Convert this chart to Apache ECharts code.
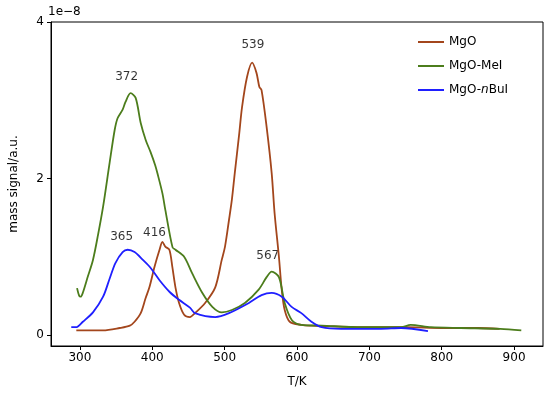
<!DOCTYPE html>
<html><head><meta charset="utf-8">
<script src="https://cdn.jsdelivr.net/npm/echarts@6/dist/echarts.min.js"></script>
<style>html,body{margin:0;padding:0;background:#fff}#c{width:550px;height:395px}</style>
</head><body><div id="c"></div>
<script>
// Data (signal in units of 1e-8)
const mgoT = [295,332,355,369,375.5,384,390.7,396,403,410,414,418,423.6,427.7,432,437,444,452,459,473,487,496,500.5,506,510,514,520,524,531,538,544,548,551,558,565,569,575,579,583,590,606,620,650,700,750,800,850,880];
const mgoV = [0.06,0.06,0.09,0.12,0.17,0.28,0.47,0.61,0.87,1.09,1.19,1.13,1.09,0.87,0.61,0.41,0.26,0.23,0.28,0.41,0.61,0.96,1.13,1.47,1.73,2.07,2.56,2.91,3.30,3.48,3.35,3.17,3.13,2.66,2.07,1.56,1.0,0.57,0.32,0.17,0.13,0.12,0.11,0.10,0.10,0.09,0.09,0.08];
const meiT = [296,299,301,304,311,318,325,332,341,348,352,359,363,370,377,384,391,397.5,404,407,414,418,428,432,444,455,469,483,496,510,528,547,558,565,575,583,593,606,634,689,744,757,785,826,881,910];
const meiV = [0.60,0.50,0.49,0.54,0.75,0.96,1.28,1.64,2.20,2.62,2.77,2.88,2.98,3.09,3.03,2.71,2.49,2.34,2.17,2.07,1.81,1.60,1.12,1.09,1.00,0.79,0.54,0.36,0.29,0.32,0.41,0.58,0.74,0.81,0.74,0.41,0.19,0.13,0.12,0.10,0.10,0.13,0.10,0.09,0.08,0.06];
const buiT = [288,294.5,304,318,332,341,349,359,366,375.5,387,397.5,410,424,437,452,459,487,506,533.5,551,565,579,592.6,606,620,634,661,716,744,781];
const buiV = [0.10,0.10,0.17,0.29,0.49,0.72,0.92,1.06,1.09,1.06,0.96,0.86,0.70,0.55,0.45,0.35,0.28,0.23,0.28,0.41,0.51,0.54,0.49,0.36,0.28,0.17,0.10,0.08,0.08,0.09,0.05];
const seriesNames = ['MgO','MgO-MeI','MgO-nBuI'];
const annotText = ['372','365','416','539','567'];
const annotT = [364.6,357.7,403,539,559.6];
const annotV = [3.30,1.25,1.30,3.71,1.01];
const xTicks = [300,400,500,600,700,800,900];
const yTicks = [0,2,4];

const zip = (a,b)=>a.map((t,i)=>[t,b[i]]);
const font = 'DejaVu Sans';
const colors = ['#a3461c','#4c7d1c','#1f1fff'];
const chart = echarts.init(document.getElementById('c'), null, {renderer:'canvas'});
chart.setOption({
  animation:false,
  textStyle:{fontFamily:font},
  grid:{left:48,right:7,top:22,bottom:49,show:true,borderColor:'#000',borderWidth:1,backgroundColor:'transparent'},
  xAxis:{type:'value',min:260,max:940,name:'T/K',nameLocation:'middle',nameGap:30,
    nameTextStyle:{color:'#000',fontSize:12,fontFamily:font},
    axisLine:{show:true,onZero:false,lineStyle:{color:'#000',width:1}},
    axisTick:{show:true,length:4,inside:false,customValues:xTicks,lineStyle:{color:'#000'}},
    axisLabel:{customValues:xTicks,color:'#000',fontSize:12,fontFamily:font,margin:6},
    splitLine:{show:false}},
  yAxis:{type:'value',min:-0.14,max:4,name:'mass signal/a.u.',nameLocation:'middle',nameGap:31,nameRotate:90,
    nameTextStyle:{color:'#000',fontSize:12,fontFamily:font},
    axisLine:{show:true,onZero:false,lineStyle:{color:'#000',width:1}},
    axisTick:{show:true,length:4,customValues:yTicks,lineStyle:{color:'#000'}},
    axisLabel:{customValues:yTicks,color:'#000',fontSize:12,fontFamily:font,margin:7},
    splitLine:{show:false}},
  legend:{orient:'vertical',left:413,top:31,itemWidth:26,itemHeight:2,itemGap:12,icon:'rect',
    data:seriesNames,
    textStyle:{color:'#000',fontSize:12,fontFamily:font,rich:{i:{fontStyle:'italic',fontSize:12,fontFamily:font,color:'#000'}}},
    formatter:n=> n==='MgO-nBuI' ? 'MgO-{i|n}BuI' : n},
  series:[
    {name:seriesNames[0],type:'line',data:zip(mgoT,mgoV),showSymbol:false,smooth:0.3,lineStyle:{width:1.8,color:colors[0]},itemStyle:{color:colors[0]}},
    {name:seriesNames[1],type:'line',data:zip(meiT,meiV),showSymbol:false,smooth:0.3,lineStyle:{width:1.8,color:colors[1]},itemStyle:{color:colors[1]}},
    {name:seriesNames[2],type:'line',data:zip(buiT,buiV),showSymbol:false,smooth:0.3,lineStyle:{width:1.8,color:colors[2]},itemStyle:{color:colors[2]}},
    {name:'annot',type:'scatter',symbolSize:0,silent:true,
      data:annotText.map((s,i)=>({name:s,value:[annotT[i],annotV[i]]})),
      label:{show:true,position:'inside',formatter:p=>p.name,color:'#000',fontSize:12,fontFamily:font}}
  ],
  graphic:[{type:'text',left:48,top:6,style:{text:'1e\u22128',fill:'#000',font:'12px "DejaVu Sans"'}}]
});
</script></body></html>
